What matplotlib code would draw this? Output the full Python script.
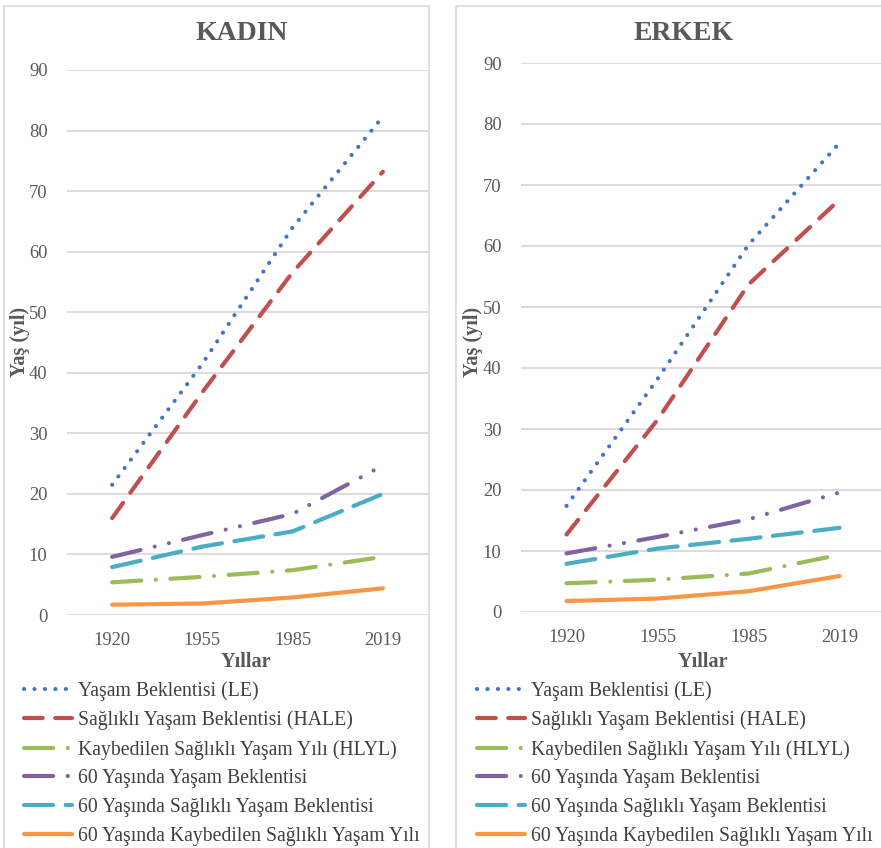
import matplotlib.pyplot as plt
from matplotlib.patches import Rectangle

plt.rcParams['font.family'] = ['Liberation Serif', 'DejaVu Serif']

years = ["1920", "1955", "1985", "2019"]

series_names = [
    "Yaşam Beklentisi (LE)",
    "Sağlıklı Yaşam Beklentisi (HALE)",
    "Kaybedilen Sağlıklı Yaşam Yılı (HLYL)",
    "60 Yaşında Yaşam Beklentisi",
    "60 Yaşında Sağlıklı Yaşam Beklentisi",
    "60 Yaşında Kaybedilen Sağlıklı Yaşam Yılı",
]

# KADIN (women)
kadin_le = [21.5, 41.5, 64.0, 82.3]
kadin_hale = [16.0, 36.8, 56.6, 73.2]
kadin_hlyl = [5.4, 6.3, 7.4, 9.6]
kadin_le60 = [9.6, 13.2, 16.7, 24.7]
kadin_hale60 = [7.9, 11.3, 13.8, 20.0]
kadin_hlyl60 = [1.7, 1.9, 2.9, 4.4]

# ERKEK (men)
erkek_le = [17.4, 38.2, 60.2, 76.9]
erkek_hale = [12.7, 31.5, 53.7, 67.6]
erkek_hlyl = [4.7, 5.3, 6.3, 9.4]
erkek_le60 = [9.6, 12.3, 15.2, 19.6]
erkek_hale60 = [7.9, 10.4, 12.0, 13.8]
erkek_hlyl60 = [1.8, 2.2, 3.4, 5.9]

colors = ["#4472C4", "#C0504D", "#9BBB59", "#8064A2", "#4BACC6", "#F79646"]
dashes = [(0.01, 2.5), (4.5, 3), (7, 3.5, 0.01, 3.5), (7, 3.5, 0.01, 3.5, 0.01, 3.5), (7, 3), None]

W, H = 881, 848
fig = plt.figure(figsize=(W / 100, H / 100), dpi=100)

grid_c = "#D9D9D9"
txt_c = "#595959"

# panel frames
for x0, x1 in [(4, 429), (456, 885)]:
    fig.patches.append(Rectangle((x0 / W, -0.01), (x1 - x0) / W, 1 - 6 / H + 0.01,
                                 transform=fig.transFigure, fill=False,
                                 edgecolor=grid_c, linewidth=1.2))

panels = [
    ("KADIN", [kadin_le, kadin_hale, kadin_hlyl, kadin_le60, kadin_hale60, kadin_hlyl60],
     (67, 428, 70, 615), 242, 20, 246, 24),
    ("ERKEK", [erkek_le, erkek_hale, erkek_hlyl, erkek_le60, erkek_hale60, erkek_hlyl60],
     (521, 885, 63, 612), 684, 473, 703, 477),
]

for title, data, (px0, px1, py_top, py_bot), tx, ylx, xlx, legx in panels:
    ax = fig.add_axes([px0 / W, 1 - py_bot / H, (px1 - px0) / W, (py_bot - py_top) / H])
    xs = range(len(years))
    handles = []
    for vals, name, c, d in zip(data, series_names, colors, dashes):
        ln, = ax.plot(xs, vals, color=c, linewidth=3.0, label=name,
                      solid_capstyle='round', dash_capstyle='round')
        if d is not None:
            ln.set_dashes(d)
        handles.append(ln)
    ax.set_xlim(-0.5, 3.5)
    ax.set_ylim(0, 90)
    ax.set_yticks(range(0, 91, 10))
    ax.set_xticks(list(xs))
    ax.set_xticklabels(years)
    ax.grid(axis='y', color=grid_c, linewidth=1.3)
    ax.set_axisbelow(True)
    for s in ax.spines.values():
        s.set_visible(False)
    ax.tick_params(length=0, labelsize=13.3, colors=txt_c)
    ax.tick_params(axis='y', pad=14)
    ax.tick_params(axis='x', pad=12)

    fig.text(tx / W, 1 - 33 / H, title, ha='center', va='center',
             fontsize=20, fontweight='bold', color=txt_c)
    fig.text(ylx / W, 1 - 342 / H, "Yaş (yıl)", ha='center', va='center', rotation=90,
             fontsize=14.5, fontweight='bold', color=txt_c)
    fig.text(xlx / W, 1 - 662 / H, "Yıllar", ha='center', va='center',
             fontsize=14.5, fontweight='bold', color=txt_c)

    leg = fig.legend(handles=handles, loc='upper left',
                     bbox_to_anchor=(legx / W, 1 - 681 / H),
                     frameon=False, borderpad=0, borderaxespad=0,
                     handlelength=2.45, handletextpad=0.3, labelspacing=0.49,
                     prop={'size': 14.2})
    for t in leg.get_texts():
        t.set_color("#404040")

fig.savefig("out.png", dpi=100)
